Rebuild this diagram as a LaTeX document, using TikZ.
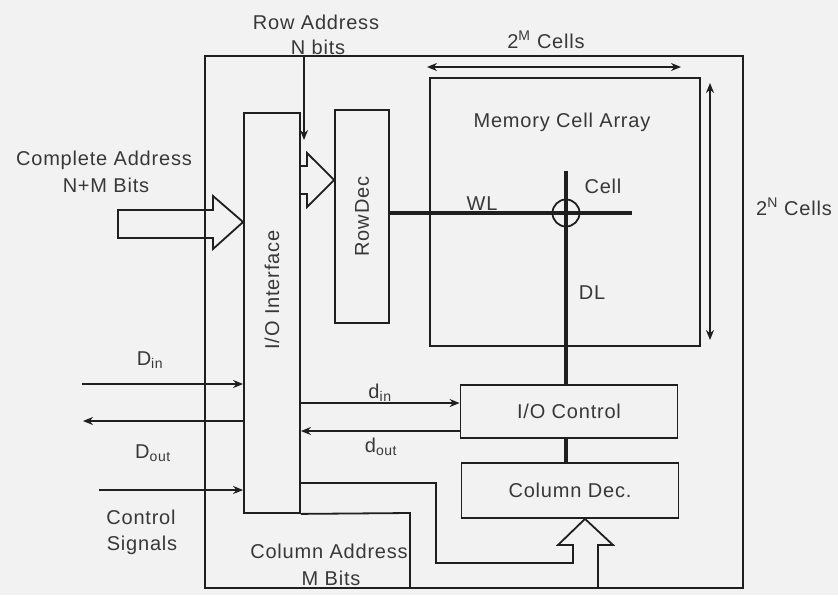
\documentclass[tikz,border=0pt]{standalone}
\usepackage{fontspec}
\setmainfont{Liberation Sans}[LetterSpace=4]
\usepackage{xcolor}
\usetikzlibrary{arrows.meta,calc}

\definecolor{paper}{gray}{0.95}
\definecolor{ink}{gray}{0.12}
\definecolor{textgray}{gray}{0.22}

\begin{document}
\begin{tikzpicture}[
  x=1pt, y=-1pt,
  font=\fontsize{20}{24}\selectfont,
  every node/.style={text=textgray},
  box/.style={draw=ink, line width=1.8pt, inner sep=0pt, align=center},
  lbl/.style={inner sep=0pt, align=center},
  wire/.style={draw=ink, line width=1.8pt, line join=miter},
  bus/.style={draw=ink, line width=3.2pt},
  arrow/.style={-{Stealth[length=10pt,width=8pt]}, draw=ink, line width=1.6pt},
  darrow/.style={{Stealth[length=10pt,width=8pt]}-{Stealth[length=10pt,width=8pt]}, draw=ink, line width=1.6pt}
]
  % Canvas
  \fill[paper] (0,0) rectangle (838,595);
  \useasboundingbox (0,0) rectangle (838,595);

  % Chip outline
  \node[box, minimum width=538pt, minimum height=532pt] (chip) at (474,322) {};

  % Blocks
  \node[box, minimum width=56pt, minimum height=400pt] (io) at (272,313) {};
  \node[lbl, rotate=90] (iolabel) at (272,290) {I/O Interface};
  \node[box, minimum width=54pt, minimum height=213pt] (rowdec) at (362,216.5) {\rotatebox{90}{RowDec}};
  \node[box, minimum width=270pt, minimum height=268pt] (mca) at (565,212) {};
  \node[lbl] (mcalabel) at (562,122) {Memory Cell Array};
  \node[box, minimum width=217pt, minimum height=53pt] (ioctl) at (569,411.5) {I/O Control};
  \node[box, minimum width=217pt, minimum height=55pt] (coldec) at (570,490.5) {Column Dec.};
  \node[draw=ink, circle, line width=1.8pt, minimum size=27pt, inner sep=0pt] (cell) at (566,213) {};

  % Free ends
  \coordinate (rowaddr) at (304,140);
  \coordinate (dinsrc) at (82,384);
  \coordinate (doutdst) at (83,421);
  \coordinate (ctrlsrc) at (99,490);
  \coordinate (dinrow) at (380,403);
  \coordinate (doutrow) at (380,431);
  \coordinate (wlend) at (632,213);
  \coordinate (dltop) at (566,171);
  \coordinate (mleft) at (427,67);
  \coordinate (mright) at (681,67);
  \coordinate (ntop) at (710,83);
  \coordinate (nbot) at (710,340);

  % Word line, data line
  \draw[bus] (rowdec.east |- cell) -- (wlend);
  \draw[bus] (dltop) -- (ioctl.north -| dltop);
  \draw[bus] (ioctl.south -| cell) -- (coldec.north -| cell);

  % Wide address arrows
  \draw[wire] (118,210) -- (213,210) -- (213,196) -- (io.west |- 0,222)
    -- (213,249) -- (213,238) -- (118,238) -- cycle;
  \draw[wire] (io.east |- 0,166) -- (307,166) -- (307,153) -- (rowdec.west |- 0,180)
    -- (307,207) -- (307,194) -- (io.east |- 0,194);

  % Column address path
  \draw[wire] (io.south east) -- (410,513) -- (chip.south -| 410,0);
  \draw[wire] (io.east |- 0,483) -- (436,483) -- (436,563) -- (573,563) -- (573,545)
    -- (558,545) -- (coldec.south -| 585,0) -- (613,545) -- (598,545) -- (chip.south -| 598,0);

  % Thin arrows
  \draw[arrow] (chip.north -| rowaddr) -- (rowaddr);
  \draw[arrow] (dinsrc) -- (io.west |- dinsrc);
  \draw[arrow] (io.west |- doutdst) -- (doutdst);
  \draw[arrow] (ctrlsrc) -- (io.west |- ctrlsrc);
  \draw[arrow] (io.east |- dinrow) -- (ioctl.west |- dinrow);
  \draw[arrow] (ioctl.west |- doutrow) -- (io.east |- doutrow);
  \draw[darrow] (mleft) -- (mright);
  \draw[darrow] (ntop) -- (nbot);

  % Labels
  \node[lbl] (rowlbl) at (316,22) {Row Address};
  \node[lbl] (nbitlbl) at (318,47) {N bits};
  \node[lbl] (complbl) at (104,160) {Complete Address};
  \node[lbl] (nmlbl) at (106,185) {N+M Bits};
  \node[lbl] (mlbl) at (546,40) {2\textsuperscript{M} Cells};
  \node[lbl] (nlbl) at (794,207) {2\textsuperscript{N} Cells};
  \node[lbl] (celllbl) at (603,186) {Cell};
  \node[lbl] (wllbl) at (482,204) {WL};
  \node[lbl] (dllbl) at (592,293) {DL};
  \node[lbl] (Dinlbl) at (150,360) {D\textsubscript{in}};
  \node[lbl] (Doutlbl) at (153,453) {D\textsubscript{out}};
  \node[lbl] (dinlbl) at (380,393) {d\textsubscript{in}};
  \node[lbl] (doutlbl) at (381,447) {d\textsubscript{out}};
  \node[lbl] (ctrllbl) at (141,517) {Control};
  \node[lbl] (siglbl) at (142,545) {Signals};
  \node[lbl] (collbl) at (329,551) {Column Address};
  \node[lbl] (mbitlbl) at (331,578) {M Bits};
\end{tikzpicture}
\end{document}
